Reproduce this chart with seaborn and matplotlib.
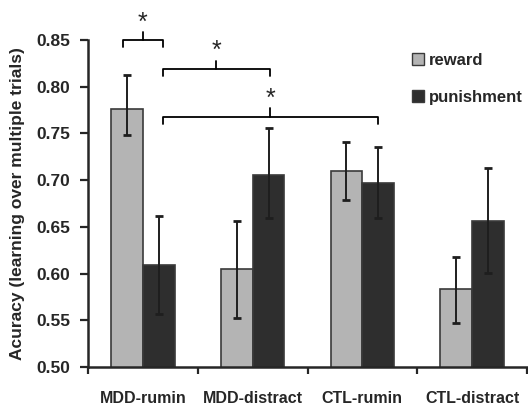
import numpy as np
import pandas as pd
import matplotlib
matplotlib.use("Agg")
import matplotlib.pyplot as plt
from matplotlib.patches import Patch
from matplotlib.ticker import FixedLocator
import seaborn as sns

#########################################################
# DATA
#########################################################

groups = ["MDD-rumin", "MDD-distract", "CTL-rumin", "CTL-distract"]
conditions = ["reward", "punishment"]

reward_mean = [0.776, 0.605, 0.710, 0.584]
reward_low = [0.748, 0.552, 0.679, 0.547]
reward_high = [0.813, 0.656, 0.741, 0.618]

punish_mean = [0.609, 0.706, 0.697, 0.656]
punish_low = [0.557, 0.659, 0.659, 0.601]
punish_high = [0.662, 0.756, 0.735, 0.713]

yticks = [0.50, 0.55, 0.60, 0.65, 0.70, 0.75, 0.80, 0.85]

# significance brackets: (x start, x end, height)
sig_x0 = [-0.18, 0.18, 0.18]
sig_x1 = [0.18, 1.155, 2.145]
sig_y = [0.850, 0.819, 0.768]

colors = {"reward": "#b4b4b4", "punishment": "#2e2e2e"}

df = pd.DataFrame({
    "group": groups * 2,
    "cond": ["reward"] * 4 + ["punishment"] * 4,
    "acc": reward_mean + punish_mean,
})

#########################################################
# PLOT
#########################################################

sns.set_style("ticks")
plt.rcParams["font.family"] = ["Liberation Sans", "DejaVu Sans"]
plt.rcParams["font.weight"] = "bold"

fig = plt.figure(figsize=(5.28, 4.09), dpi=100)
ax = fig.add_axes([88 / 528, 42 / 409, 439 / 528, 327 / 409])

sns.barplot(data=df, x="group", y="acc", hue="cond", order=groups,
            hue_order=conditions, palette=colors, width=0.58,
            errorbar=None, edgecolor="#3a3a3a", linewidth=1.2,
            legend=False, ax=ax)

lows = [reward_low, punish_low]
highs = [reward_high, punish_high]
means = [reward_mean, punish_mean]
for cont, m, lo, hi in zip(ax.containers, means, lows, highs):
    xs = [b.get_x() + b.get_width() / 2 for b in cont]
    m = np.array(m)
    err = [m - np.array(lo), np.array(hi) - m]
    ax.errorbar(xs, m, yerr=err, fmt="none", ecolor="#1e1e1e",
                elinewidth=1.4, capsize=3, capthick=2)

ax.set_ylim(0.50, 0.85)
ax.set_xlim(-0.5, 3.5)
ax.set_yticks(yticks)
ax.set_yticklabels(["%.2f" % v for v in yticks], fontsize=12.5,
                   fontweight="bold")
ax.set_xticks(range(4))
ax.set_xticklabels(groups, fontsize=11.5, fontweight="bold")
ax.xaxis.set_minor_locator(FixedLocator([-0.5, 0.5, 1.5, 2.5, 3.5]))
ax.tick_params(axis="x", which="major", length=0, pad=17)
ax.tick_params(axis="x", which="minor", length=5, width=1.6,
               direction="out")
ax.tick_params(axis="y", length=6, width=1.6, pad=7)
ax.set_xlabel("")
ax.set_ylabel("Acuracy (learning over multiple trials)", fontsize=12.5,
              fontweight="bold")
ax.yaxis.set_label_coords(-0.143, 0.5)

for s in ["top", "right"]:
    ax.spines[s].set_visible(False)
for s in ["left", "bottom"]:
    ax.spines[s].set_linewidth(1.8)

# significance brackets
for x0, x1, y in zip(sig_x0, sig_x1, sig_y):
    h = 0.008
    xm = (x0 + x1) / 2
    ax.plot([x0, x0, x1, x1], [y - h, y, y, y - h], color="black",
            lw=1.3, clip_on=False)
    ax.plot([xm, xm], [y, y + 0.009], color="black", lw=1.3,
            clip_on=False)
    ax.text(xm, y + 0.006, "*", ha="center", va="bottom", fontsize=18,
            fontweight="normal")

# legend
handles = [Patch(facecolor=colors[c], edgecolor="#3a3a3a", label=c)
           for c in conditions]
ax.legend(handles=handles, loc="upper left", bbox_to_anchor=(0.738, 0.96),
          frameon=False, handlelength=0.7, handleheight=0.7,
          handletextpad=0.3, labelspacing=1.3, borderpad=0,
          borderaxespad=0, prop={"weight": "bold", "size": 12})

fig.savefig("out.png", dpi=100)
